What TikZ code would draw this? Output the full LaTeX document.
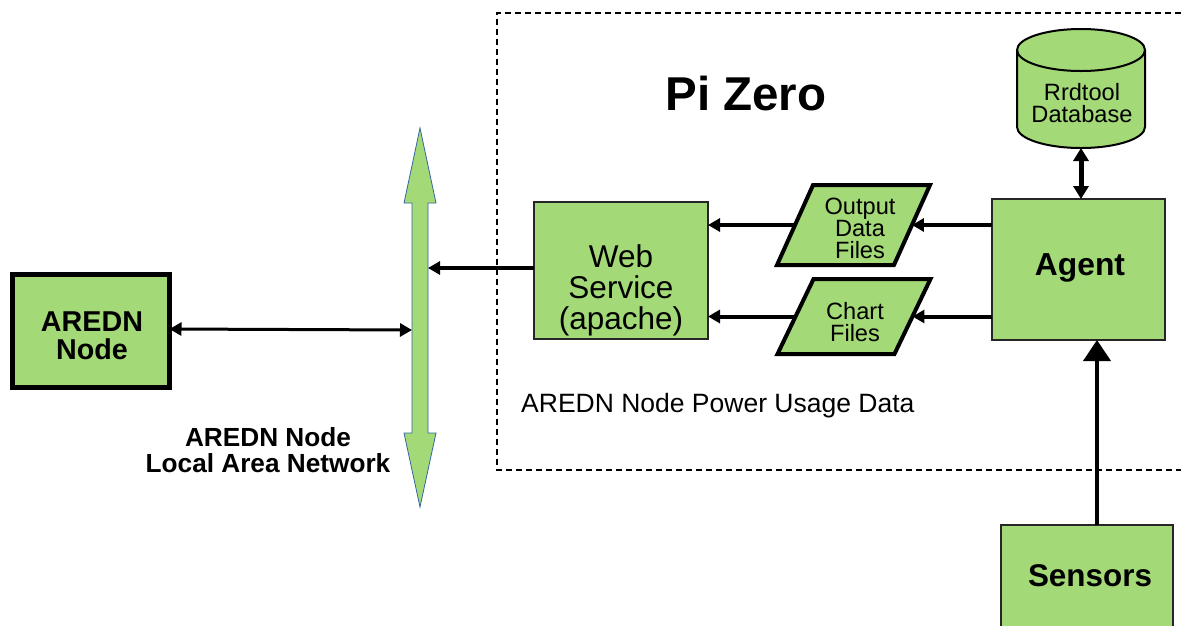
\documentclass[tikz,border=0pt]{standalone}
\usepackage{fontspec}
\setmainfont{Liberation Sans}
\usetikzlibrary{arrows.meta,shapes.geometric}
\definecolor{lg}{RGB}{163,217,119}
\definecolor{busline}{RGB}{52,101,164}
\begin{document}
\begin{tikzpicture}[x=1pt,y=-1pt,
  box/.style={draw=black!85, line width=2pt, fill=lg, inner sep=0pt, outer sep=0pt},
  para/.style={trapezium, trapezium left angle=66, trapezium right angle=114, trapezium stretches=true,
    draw=black, line width=4pt, fill=lg, inner sep=2pt, outer sep=0pt},
  conn/.style={line width=4pt, -{Triangle[length=12pt,width=13pt]}},
  dconn/.style={line width=3pt, {Triangle[length=12pt,width=13pt]}-{Triangle[length=12pt,width=13pt]}},
  frame/.style={line width=2.5pt, dash pattern=on 6pt off 4pt},
  smalltext/.style={font=\fontsize{23.6}{22}\selectfont, align=center, inner sep=0pt},
]
\useasboundingbox (0,0) rectangle (1181,625);
% frame of the Pi Zero
\draw[frame] (1181,13) -- (497,13) -- (497,470) -- (1181,470);
\node[font=\bfseries\fontsize{47.5}{50}\selectfont, inner sep=0pt] (title) at (746,94) {Pi Zero};
\node[font=\fontsize{26.5}{30}\selectfont, anchor=base west, inner sep=0pt] (usage) at (521,412) {AREDN Node Power Usage Data};

% LAN bus
\node[minimum width=16pt, minimum height=379pt, inner sep=0pt, outer sep=0pt] (bus) at (420,317.5) {};
\draw[busline, line width=0.8pt, fill=lg] (420,128) -- (436,203) -- (428,203) -- (428,433) -- (436,433)
  -- (420,507) -- (404,433) -- (412,433) -- (412,203) -- (404,203) -- cycle;
\node[font=\bfseries\fontsize{26.2}{26}\selectfont, align=center, inner sep=0pt] (lan) at (268,450) {AREDN Node\\Local Area Network};

% AREDN node
\node[box, draw=black, line width=5pt, minimum width=157pt, minimum height=113pt] (aredn) at (91,331) {};
\node[font=\bfseries\fontsize{28.7}{28}\selectfont, align=center, inner sep=0pt] (arednText) at (92,336) {AREDN\\Node};

% Web service
\node[box, minimum width=174pt, minimum height=137pt] (web) at (621,270.5) {};
\node[font=\fontsize{31.5}{31}\selectfont, align=center, inner sep=0pt] (webtext) at (621,290) {Web\\Service\\(apache)};

% files
\node[para, minimum width=153pt, minimum height=80pt] (out) at (853.5,225) {};
\node[smalltext] (outtext) at (860,228) {Output\\Data\\Files};
\node[para, minimum width=153pt, minimum height=75pt] (chart) at (854,316.5) {};
\node[smalltext] (charttext) at (855,322) {Chart\\Files};

% agent
\node[box, minimum width=173pt, minimum height=141pt] (agent) at (1078.5,269.5) {};
\node[font=\bfseries\fontsize{31.8}{34}\selectfont, inner sep=0pt] (agentText) at (1080,268) {Agent};

% database cylinder
\node[minimum width=128pt, minimum height=119pt, inner sep=0pt, outer sep=0pt] (db) at (1081,88.5) {};
\draw[line width=2pt, fill=lg] (1017,50) -- (1017,127) arc (180:0:64 and 21) -- (1145,50) arc (0:-180:64 and 21) -- cycle;
\draw[line width=2pt] (1017,50) arc (180:0:64 and 21);
\node[smalltext] (dbtext) at (1082,103) {Rrdtool\\Database};

% sensors
\node[box, minimum width=172pt, minimum height=102pt] (sensors) at (1087,576) {};
\node[font=\bfseries\fontsize{31.4}{34}\selectfont, inner sep=0pt] (sensorsText) at (1090,576) {Sensors};

% connectors
\draw[line width=5pt, {Triangle[length=13pt,width=15pt]}-{Triangle[length=13pt,width=15pt]}]
  (db.south) -- (db.south |- agent.north);
\draw[conn] (agent.west |- out.east) -- (out.east);
\draw[conn] (out.west) -- (web.east |- out.west);
\draw[conn] (agent.west |- chart.east) -- (chart.east);
\draw[conn] (chart.west) -- (web.east |- chart.west);
\draw[conn] ([yshift=2.5pt]web.west) -- ([yshift=2.5pt]bus.east |- web.west);
\draw[dconn] ([yshift=2pt]aredn.east) -- ([yshift=1pt]bus.west |- aredn.east);
\draw[line width=4pt, -{Triangle[length=21pt,width=27pt]}] ([xshift=10pt]sensors.north) -- ([xshift=10pt]sensors.north |- agent.south);
\end{tikzpicture}
\end{document}
